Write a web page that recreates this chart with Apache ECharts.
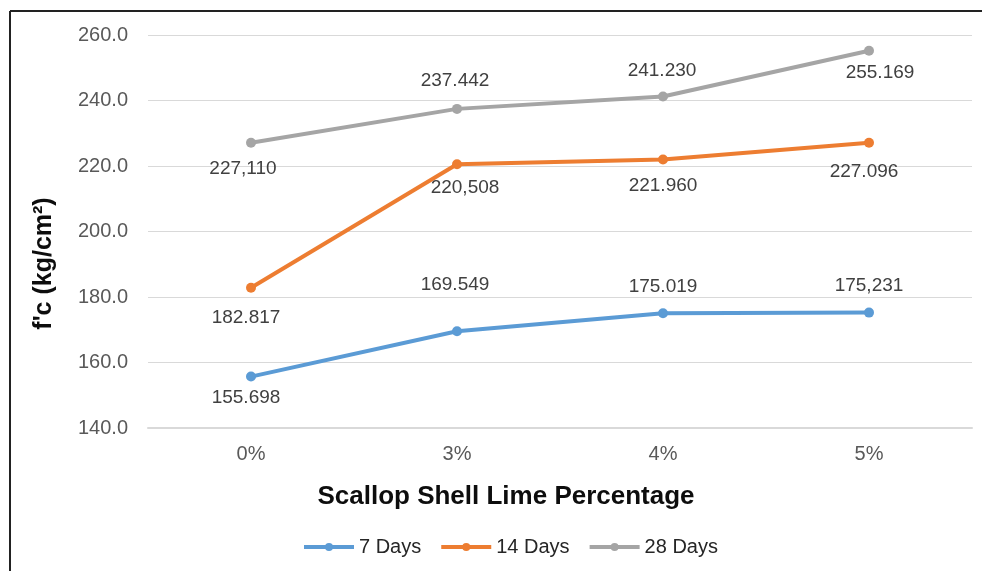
<!DOCTYPE html>
<html><head><meta charset="utf-8">
<script src="https://cdn.jsdelivr.net/npm/echarts@6/dist/echarts.min.js"></script>
<style>html,body{margin:0;padding:0;background:#fff}#c{width:982px;height:571px}</style>
</head><body><div id="c"></div>
<script>
var categories = ['0%', '3%', '4%', '5%'];
var days7 = [155.698, 169.549, 175.019, 175.231];
var days14 = [182.817, 220.508, 221.960, 227.096];
var days28 = [227.110, 237.442, 241.230, 255.169];
var labels7 = ['155.698', '169.549', '175.019', '175,231'];
var labels14 = ['182.817', '220,508', '221.960', '227.096'];
var labels28 = ['227,110', '237.442', '241.230', '255.169'];
// label placement (styling only)
var pos7 = ['bottom', 'top', 'top', 'top'];
var pos14 = ['bottom', 'bottom', 'bottom', 'bottom'];
var pos28 = ['bottom', 'top', 'top', 'bottom'];
var dist7 = [7, 32, 12, 12];
var dist14 = [15, 9, 12, 15];
var dist28 = [12, 14, 11, 7];
var dx7 = [-5, -2, 0, 0];
var dx14 = [-5, 8, 0, -5];
var dx28 = [-8, -2, -1, 11];

function mk(name, vals, labs, pos, dist, dx, color) {
  return {
    name: name, type: 'line', data: vals.map(function (v, i) {
      return { value: v, label: { position: pos[i], distance: dist[i], offset: [dx[i], 0], formatter: labs[i] } };
    }),
    symbol: 'circle', symbolSize: 10,
    lineStyle: { width: 4, color: color }, itemStyle: { color: color },
    label: { show: true, fontSize: 19, color: '#404040' }
  };
}
var chart = echarts.init(document.getElementById('c'));
chart.setOption({
  animation: false,
  textStyle: { fontFamily: 'Liberation Sans, Arial' },
  graphic: [
    { type: 'line', shape: { x1: 10, y1: 11, x2: 982, y2: 11 }, style: { stroke: '#222', lineWidth: 2 } },
    { type: 'line', shape: { x1: 10, y1: 11, x2: 10, y2: 571 }, style: { stroke: '#222', lineWidth: 2 } }
  ],
  grid: { left: 148, right: 10, top: 35, bottom: 143 },
  legend: {
    bottom: 9, left: 297, itemWidth: 50, itemHeight: 10, itemGap: 18,
    textStyle: { fontSize: 20, color: '#262626' },
    lineStyle: { width: 4 },
    data: ['7 Days', '14 Days', '28 Days']
  },
  xAxis: {
    type: 'category', data: categories,
    name: 'Scallop Shell Lime Percentage', nameLocation: 'middle', nameGap: 56,
    nameTextStyle: { fontSize: 26, fontWeight: 'bold', color: '#0d0d0d', padding: [0, 108, 0, 0] },
    axisLine: { lineStyle: { color: '#d9d9d9', width: 2 } },
    axisTick: { show: false },
    axisLabel: { fontSize: 20, color: '#595959', margin: 16 }
  },
  yAxis: {
    type: 'value', min: 140, max: 260, interval: 20,
    name: "f'c (kg/cm²)", nameLocation: 'middle', nameGap: 91, nameRotate: 90,
    nameTextStyle: { fontSize: 25, fontWeight: 'bold', color: '#0d0d0d', padding: [0, 64, 0, 0] },
    axisLabel: { fontSize: 20, color: '#595959', margin: 20, formatter: function (v) { return v.toFixed(1); } },
    axisLine: { show: false }, axisTick: { show: false },
    splitLine: { lineStyle: { color: '#d9d9d9', width: 1 } }
  },
  series: [
    mk('7 Days', days7, labels7, pos7, dist7, dx7, '#5B9BD5'),
    mk('14 Days', days14, labels14, pos14, dist14, dx14, '#ED7D31'),
    mk('28 Days', days28, labels28, pos28, dist28, dx28, '#A5A5A5')
  ]
});
</script></body></html>
